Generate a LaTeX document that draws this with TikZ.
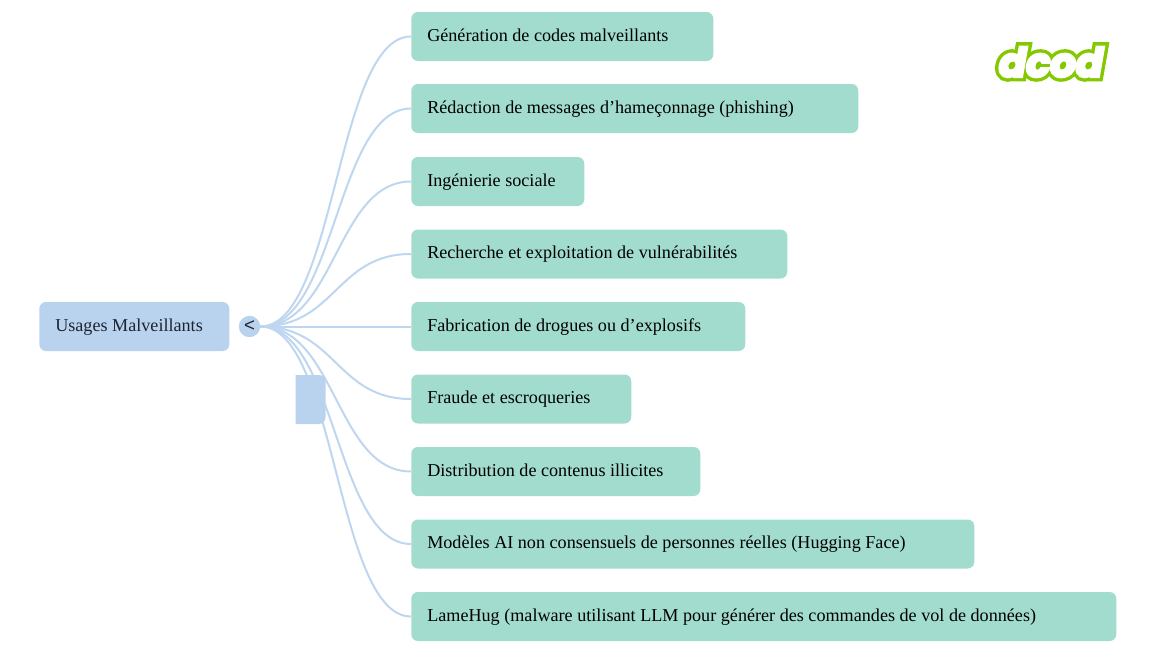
\documentclass[tikz,border=0pt]{standalone}
\usepackage{fontspec}
\usepackage{xcolor}
\setmainfont{Liberation Serif}
\newfontfamily\hubfont{Liberation Sans}
\newfontfamily\logofont[BoldItalicFeatures={FakeBold=7}]{Poppins}
\newfontfamily\logofat[BoldItalicFeatures={FakeBold=24}]{Poppins}
\usetikzlibrary{positioning,calc}
\definecolor{leafgreen}{HTML}{A2DCCE}
\definecolor{rootblue}{HTML}{B9D3EF}
\definecolor{linkblue}{HTML}{BFD6F0}
\definecolor{logogreen}{HTML}{84C800}
\definecolor{inkdark}{HTML}{1C2430}

\begin{document}
\begin{tikzpicture}[x=0.75pt, y=-0.75pt,
    box/.style={rounded corners=5pt, minimum height=36.75pt, inner xsep=12pt, inner ysep=0pt, text height=10pt, text depth=3pt, anchor=west, font=\fontsize{13.6}{16}\selectfont, execute at begin node={\spaceskip=0pt\relax}},
    leaf/.style={box, fill=leafgreen},
    root/.style={box, fill=rootblue, text=inkdark},
    hub/.style={circle, fill=rootblue, minimum size=16pt, inner sep=0pt, text=inkdark, font=\hubfont\fontsize{14}{14}\selectfont},
    link/.style={draw=linkblue, line width=1.5pt}]
    \useasboundingbox (0,0) rectangle (1160,653);
    \node[root, text width=118.5pt] (usages) at (39,326.5) {Usages Malveillants};
    \node[hub] (toggle) at (249.5,326.5) {<};
    \foreach \i/\y/\w/\txt in {
        1/36.5/302/Génération de codes malveillants,
        2/108.5/447/Rédaction de messages d’hameçonnage (phishing),
        3/181.5/173/Ingénierie sociale,
        4/254/376/Recherche et exploitation de vulnérabilités,
        5/326.5/334/Fabrication de drogues ou d’explosifs,
        6/399/220/Fraude et escroqueries,
        7/471.5/289/Distribution de contenus illicites,
        8/544/563/Modèles AI non consensuels de personnes réelles (Hugging Face),
        9/616.5/705/LameHug (malware utilisant LLM pour générer des commandes de vol de données)} {
        \pgfmathsetmacro\tw{(\w-32)*0.75}
        \node[leaf, text width=\tw pt] (leaf\i) at (411,\y) {\txt};
        \draw[link] (toggle.east) .. controls (336,326.5) and (336,\y) .. (leaf\i.west);
    }
    \fill[rootblue] (295.5,375) [rounded corners=5pt] -- (325.5,375) -- (325.5,424) [sharp corners] -- (295.5,424) -- cycle;
    \node[text=logogreen, font=\logofat\bfseries\itshape\fontsize{30}{30}\selectfont] (logoedge) at (1051,62) {dcod};
    \node[text=white, font=\logofont\bfseries\itshape\fontsize{30}{30}\selectfont] (logotext) at (logoedge) {dcod};
\end{tikzpicture}
\end{document}
